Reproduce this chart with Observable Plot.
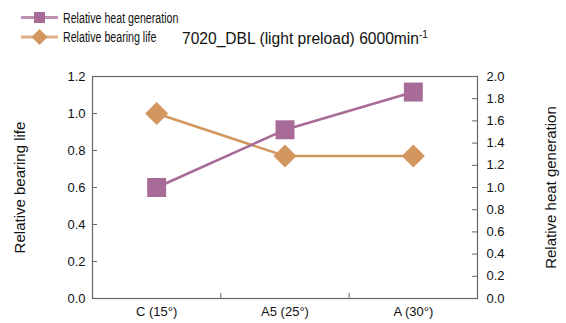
<!DOCTYPE html>
<html>
<head>
<meta charset="utf-8">
<script src="https://cdn.jsdelivr.net/npm/d3@7"></script>
<script src="https://cdn.jsdelivr.net/npm/@observablehq/plot@0.6"></script>
<style>
  html, body { margin: 0; padding: 0; background: #fff; }
  #wrap { position: relative; width: 566px; height: 323px; font-family: "Liberation Sans", Arial, sans-serif; color: #111; }
  #legend { position: absolute; left: 20px; top: 8px; font-size: 14px; }
  .row { display: flex; align-items: center; height: 19px; }
  .row svg { display: block; }
  .row span { display: inline-block; margin-left: 4px; transform: scaleX(0.76); transform-origin: left center; white-space: nowrap; }
  #title { position: absolute; left: 182px; top: 29px; font-size: 15.6px; white-space: nowrap; }
  #title sup { font-size: 10px; vertical-align: 6px; }
</style>
</head>
<body>
<div id="wrap">
  <div id="chart"></div>
  <div id="legend"></div>
  <div id="title">7020_DBL (light preload) 6000min<sup>-1</sup></div>
</div>
<script>
// ---- data ----
const categories = ["C (15°)", "A5 (25°)", "A (30°)"];
const heatGeneration = [1.0, 1.52, 1.86];   // right axis
const bearingLife = [1.0, 0.77, 0.77];      // left axis
const leftTicks = [0, 0.2, 0.4, 0.6, 0.8, 1.0, 1.2];
const rightTicks = [0, 0.2, 0.4, 0.6, 0.8, 1.0, 1.2, 1.4, 1.6, 1.8, 2.0];
const seriesNames = ["Relative heat generation", "Relative bearing life"];
const leftLabel = "Relative bearing life";
const rightLabel = "Relative heat generation";

const purple = "#a86a96";
const orange = "#d4965f";
const leftMax = 1.2, rightMax = 2.0;
const k = leftMax / rightMax; // map right-axis values to left-axis units

const W = 566, H = 323, mL = 92, mR = 89, mT = 76, mB = 25;
const fw = W - mL - mR, fh = H - mT - mB;

const heatData = categories.map((c, i) => ({i: i + 1, v: heatGeneration[i] * k}));
const lifeData = categories.map((c, i) => ({i: i + 1, v: bearingLife[i]}));
const boundaries = categories.slice(1).map((c, i) => i + 1.5);

const font = '"Liberation Sans", Arial, sans-serif';

const chart = Plot.plot({
  width: W, height: H,
  marginLeft: mL, marginRight: mR, marginTop: mT, marginBottom: mB,
  style: {fontFamily: font, fontSize: "13px", color: "#111", background: "#fff"},
  x: {domain: [0.5, categories.length + 0.5], axis: null},
  y: {domain: [0, leftMax], axis: null},
  marks: [
    Plot.frame({stroke: "#666", strokeWidth: 1.2}),
    Plot.tickY(leftTicks, {y: d => d, stroke: "#666", insetRight: fw - 5}),
    Plot.tickY(rightTicks, {y: d => d * k, stroke: "#666", insetLeft: fw - 5}),
    Plot.tickX(boundaries, {x: d => d, stroke: "#666", insetTop: fh - 5}),
    Plot.axisY(leftTicks, {anchor: "left", tickSize: 0, tickPadding: 7, tickFormat: d => d.toFixed(1), label: null}),
    Plot.axisY(rightTicks.map(d => d * k), {anchor: "right", tickSize: 0, tickPadding: 9, tickFormat: d => (d / k).toFixed(1), label: null}),
    Plot.axisX(categories.map((c, i) => i + 1), {anchor: "bottom", tickSize: 0, tickPadding: 8, tickFormat: d => categories[d - 1], label: null}),
    Plot.text([leftLabel], {frameAnchor: "left", dx: -72, rotate: -90, fontSize: 15, textAnchor: "middle", lineAnchor: "middle", fill: "#111"}),
    Plot.text([rightLabel], {frameAnchor: "right", dx: 74, rotate: -90, fontSize: 15, textAnchor: "middle", lineAnchor: "middle", fill: "#111"}),
    Plot.line(lifeData, {x: "i", y: "v", stroke: orange, strokeWidth: 2.5}),
    Plot.line(heatData, {x: "i", y: "v", stroke: purple, strokeWidth: 2.5}),
    Plot.dot(lifeData, {x: "i", y: "v", symbol: "diamond2", r: 10.4, fill: orange, stroke: "none"}),
    Plot.dot(heatData, {x: "i", y: "v", symbol: "square", r: 10.7, fill: purple, stroke: "none"})
  ]
});
document.getElementById("chart").appendChild(chart);

// legend
const legend = document.getElementById("legend");
const sym = [
  `<rect x="14" y="3" width="11" height="11" fill="${purple}"/>`,
  `<path d="M19.5,1 L27.5,9 L19.5,17 L11.5,9 Z" fill="${orange}"/>`
];
const cols = [purple, orange];
seriesNames.forEach((name, i) => {
  const row = document.createElement("div");
  row.className = "row";
  row.innerHTML = `<svg width="39" height="18"><line x1="1" x2="38" y1="${i ? 9 : 8.5}" y2="${i ? 9 : 8.5}" stroke="${cols[i]}" stroke-opacity="0.75" stroke-width="3"/>${sym[i]}</svg><span>${name}</span>`;
  legend.appendChild(row);
});
</script>
</body>
</html>
